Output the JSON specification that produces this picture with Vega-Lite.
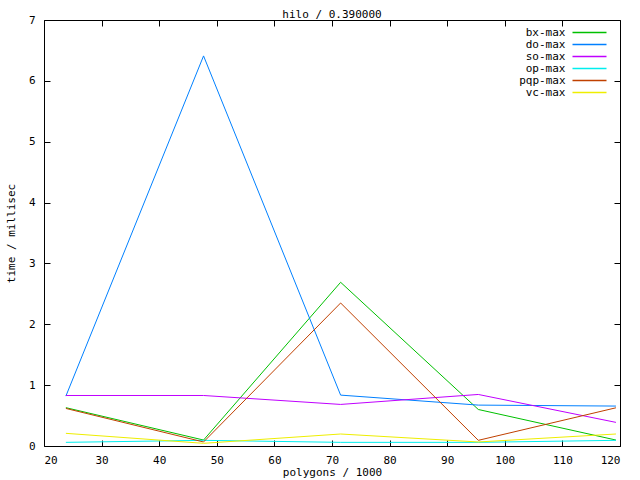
{
  "$schema": "https://vega.github.io/schema/vega-lite/v6.json",
  "width": 576,
  "height": 426,
  "autosize": {"type": "none"},
  "padding": {"left": 44, "top": 20, "right": 20, "bottom": 34},
  "background": "white",
  "title": {"text": "hilo / 0.390000", "offset": -6, "fontSize": 11, "font": "DejaVu Sans Mono", "fontWeight": "normal", "color": "black"},
  "config": {
    "view": {"stroke": "black", "strokeWidth": 1},
    "axis": {"font": "DejaVu Sans Mono", "labelFont": "DejaVu Sans Mono", "titleFont": "DejaVu Sans Mono", "labelFontSize": 11, "titleFontSize": 11, "titleFontWeight": "normal", "labelColor": "black", "titleColor": "black", "tickColor": "black", "domain": false, "grid": false, "tickSize": -6, "labelPadding": 6}
  },
  "data": {"values": [
    {"series": "bx-max", "x": 23.8, "y": 0.63},
    {"series": "bx-max", "x": 47.7, "y": 0.098},
    {"series": "bx-max", "x": 71.5, "y": 2.69},
    {"series": "bx-max", "x": 95.4, "y": 0.6},
    {"series": "bx-max", "x": 119.3, "y": 0.098},
    {"series": "do-max", "x": 23.8, "y": 0.82},
    {"series": "do-max", "x": 47.7, "y": 6.41},
    {"series": "do-max", "x": 71.5, "y": 0.836},
    {"series": "do-max", "x": 95.4, "y": 0.672},
    {"series": "do-max", "x": 119.3, "y": 0.656},
    {"series": "so-max", "x": 23.8, "y": 0.83},
    {"series": "so-max", "x": 47.7, "y": 0.83},
    {"series": "so-max", "x": 71.5, "y": 0.683},
    {"series": "so-max", "x": 95.4, "y": 0.847},
    {"series": "so-max", "x": 119.3, "y": 0.388},
    {"series": "op-max", "x": 23.8, "y": 0.06},
    {"series": "op-max", "x": 47.7, "y": 0.093},
    {"series": "op-max", "x": 71.5, "y": 0.06},
    {"series": "op-max", "x": 95.4, "y": 0.06},
    {"series": "op-max", "x": 119.3, "y": 0.093},
    {"series": "pqp-max", "x": 23.8, "y": 0.617},
    {"series": "pqp-max", "x": 47.7, "y": 0.066},
    {"series": "pqp-max", "x": 71.5, "y": 2.35},
    {"series": "pqp-max", "x": 95.4, "y": 0.093},
    {"series": "pqp-max", "x": 119.3, "y": 0.628},
    {"series": "vc-max", "x": 23.8, "y": 0.208},
    {"series": "vc-max", "x": 47.7, "y": 0.044},
    {"series": "vc-max", "x": 71.5, "y": 0.197},
    {"series": "vc-max", "x": 95.4, "y": 0.066},
    {"series": "vc-max", "x": 119.3, "y": 0.197}
  ]},
  "layer": [
    {
      "mark": {"type": "line", "strokeWidth": 1, "clip": true},
      "encoding": {
        "x": {"field": "x", "type": "quantitative", "scale": {"domain": [20, 120], "nice": false, "zero": false},
              "axis": {"title": "polygons / 1000", "values": [20, 30, 40, 50, 60, 70, 80, 90, 100, 110, 120], "labelPadding": 14, "titlePadding": 1}},
        "y": {"field": "y", "type": "quantitative", "scale": {"domain": [0, 7], "nice": false},
              "axis": {"title": "time / millisec", "values": [0, 1, 2, 3, 4, 5, 6, 7], "labelPadding": 15, "titlePadding": 12}},
        "color": {"field": "series", "type": "nominal",
          "scale": {"domain": ["bx-max", "do-max", "so-max", "op-max", "pqp-max", "vc-max"],
                    "range": ["#00c000", "#0080ff", "#c000ff", "#00eeee", "#c04000", "#eeee00"]},
          "legend": {"title": null, "orient": "none", "legendX": 467, "legendY": 7,
                     "symbolType": "M-4,0H4", "symbolSize": 72.25, "symbolStrokeWidth": 1.5,
                     "labelAlign": "right", "labelOffset": -29.5, "symbolOffset": 73,
                     "labelFont": "DejaVu Sans Mono", "labelFontSize": 11, "labelColor": "black",
                     "rowPadding": 0, "padding": 0, "labelLimit": 200}
        }
      }
    },
    {
      "mark": {"type": "point", "opacity": 0},
      "encoding": {
        "x": {"field": "x", "type": "quantitative", "axis": {"orient": "top", "labels": false, "title": null, "values": [20, 30, 40, 50, 60, 70, 80, 90, 100, 110, 120]}},
        "y": {"field": "y", "type": "quantitative", "axis": {"orient": "right", "labels": false, "title": null, "values": [0, 1, 2, 3, 4, 5, 6, 7]}}
      }
    }
  ],
  "resolve": {"axis": {"x": "independent", "y": "independent"}}
}
